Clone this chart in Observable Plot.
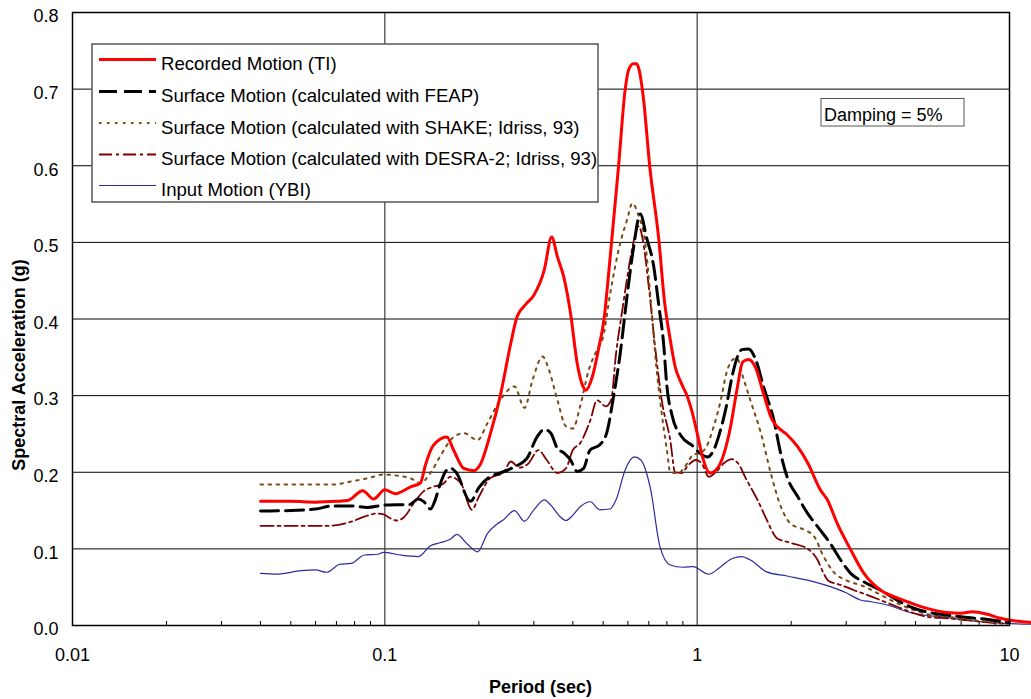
<!DOCTYPE html>
<html>
<head>
<meta charset="utf-8">
<script src="https://cdn.jsdelivr.net/npm/d3@7"></script>
<script src="https://cdn.jsdelivr.net/npm/@observablehq/plot@0.6"></script>
<style>
  html, body { margin: 0; padding: 0; background: #fff; }
  #chart { width: 1031px; height: 699px; }
</style>
</head>
<body>
<div id="chart"></div>
<script>
// ---- Data (period in sec, spectral acceleration in g) ----
const recordedT  = [0.04,0.05,0.06,0.07,0.076,0.085,0.092,0.1,0.108,0.121,0.13,0.135,0.143,0.158,0.166,0.179,0.193,0.202,0.218,0.234,0.253,0.265,0.284,0.3,0.324,0.342,0.357,0.374,0.393,0.413,0.429,0.44,0.462,0.485,0.503,0.522,0.54,0.56,0.588,0.603,0.625,0.64,0.652,0.672,0.705,0.754,0.785,0.82,0.85,0.89,0.93,0.96,1.0,1.04,1.1,1.16,1.22,1.28,1.34,1.4,1.46,1.54,1.63,1.74,1.8,1.94,2.1,2.26,2.48,2.61,2.81,3.1,3.42,3.87,4.37,4.94,5.6,6.3,6.97,7.6,8.5,9.35,10.3,11.77];
const recordedSa = [0.162,0.162,0.161,0.162,0.163,0.176,0.165,0.177,0.172,0.181,0.186,0.21,0.235,0.246,0.229,0.205,0.202,0.21,0.251,0.299,0.368,0.403,0.42,0.431,0.464,0.507,0.481,0.455,0.408,0.342,0.314,0.307,0.325,0.364,0.399,0.464,0.529,0.599,0.699,0.725,0.733,0.733,0.725,0.69,0.599,0.503,0.425,0.373,0.338,0.316,0.299,0.281,0.251,0.22,0.199,0.205,0.225,0.26,0.307,0.344,0.347,0.336,0.303,0.268,0.26,0.249,0.233,0.212,0.177,0.164,0.133,0.099,0.068,0.046,0.036,0.028,0.021,0.017,0.016,0.018,0.0146,0.0094,0.0063,0.004];

const feapT  = [0.04,0.05,0.06,0.068,0.078,0.088,0.099,0.12,0.128,0.133,0.14,0.145,0.15,0.158,0.163,0.169,0.188,0.2,0.217,0.234,0.26,0.285,0.307,0.324,0.34,0.357,0.375,0.393,0.413,0.433,0.454,0.488,0.513,0.54,0.567,0.596,0.626,0.657,0.69,0.725,0.755,0.78,0.8,0.83,0.89,0.97,1.02,1.08,1.13,1.18,1.24,1.3,1.39,1.46,1.54,1.63,1.76,1.85,1.94,2.1,2.26,2.43,2.67,2.88,3.1,3.42,3.87,4.37,4.94,5.6,6.3,7.2,8.07,9.1,10];
const feapSa = [0.1495,0.15,0.152,0.156,0.156,0.154,0.157,0.158,0.165,0.162,0.152,0.164,0.183,0.203,0.205,0.2,0.162,0.18,0.194,0.199,0.207,0.218,0.246,0.256,0.251,0.231,0.225,0.216,0.201,0.205,0.229,0.236,0.251,0.299,0.355,0.429,0.494,0.537,0.505,0.47,0.415,0.37,0.312,0.275,0.247,0.234,0.225,0.22,0.229,0.251,0.286,0.329,0.36,0.361,0.347,0.312,0.268,0.225,0.194,0.168,0.146,0.129,0.107,0.0855,0.068,0.057,0.046,0.033,0.0225,0.0167,0.0137,0.0107,0.0089,0.0063,0.004];

const shakeT  = [0.04,0.068,0.078,0.088,0.099,0.112,0.121,0.13,0.14,0.15,0.166,0.179,0.198,0.213,0.234,0.26,0.28,0.297,0.32,0.335,0.357,0.38,0.4,0.422,0.45,0.478,0.5,0.527,0.567,0.596,0.62,0.65,0.68,0.71,0.74,0.77,0.8,0.82,0.87,0.93,0.97,1.02,1.07,1.13,1.19,1.24,1.3,1.34,1.4,1.48,1.6,1.72,1.85,1.99,2.2,2.37,2.54,2.76,3.0,3.42,3.87,4.37,4.94,5.6,6.3,7.3,8.5,9.8];
const shakeSa = [0.184,0.184,0.188,0.192,0.197,0.195,0.192,0.186,0.199,0.22,0.246,0.251,0.242,0.264,0.294,0.312,0.284,0.32,0.351,0.334,0.294,0.26,0.257,0.286,0.334,0.36,0.377,0.434,0.499,0.529,0.551,0.534,0.503,0.425,0.338,0.277,0.229,0.2,0.199,0.212,0.223,0.225,0.233,0.26,0.294,0.329,0.347,0.349,0.325,0.294,0.251,0.199,0.156,0.133,0.125,0.116,0.09,0.068,0.059,0.051,0.04,0.029,0.02,0.0137,0.0115,0.008,0.005,0.003];

const desraT  = [0.04,0.065,0.078,0.086,0.094,0.099,0.104,0.109,0.115,0.124,0.133,0.143,0.154,0.162,0.175,0.19,0.2,0.217,0.24,0.253,0.27,0.289,0.31,0.33,0.357,0.38,0.4,0.422,0.455,0.478,0.51,0.53,0.55,0.58,0.61,0.65,0.67,0.7,0.735,0.77,0.82,0.85,0.89,0.94,0.99,1.04,1.09,1.14,1.22,1.29,1.35,1.44,1.56,1.67,1.8,1.99,2.26,2.43,2.54,2.63,2.88,3.18,3.5,3.87,4.37,4.94,5.6,6.3,7.2,8.5,9.8];
const desraSa = [0.13,0.13,0.1355,0.142,0.146,0.145,0.14,0.137,0.141,0.16,0.175,0.181,0.185,0.194,0.186,0.151,0.168,0.192,0.2,0.214,0.206,0.212,0.229,0.216,0.199,0.205,0.229,0.238,0.268,0.294,0.286,0.294,0.355,0.42,0.477,0.521,0.503,0.442,0.36,0.294,0.242,0.2,0.199,0.21,0.216,0.21,0.194,0.199,0.212,0.217,0.212,0.19,0.164,0.138,0.114,0.108,0.1,0.0855,0.068,0.0585,0.053,0.046,0.04,0.033,0.0245,0.016,0.0107,0.0094,0.0072,0.004,0.002];

const inputT  = [0.04,0.045,0.054,0.06,0.065,0.072,0.078,0.086,0.095,0.099,0.112,0.128,0.14,0.15,0.162,0.17,0.183,0.198,0.213,0.229,0.24,0.26,0.28,0.3,0.324,0.34,0.364,0.38,0.4,0.422,0.455,0.488,0.526,0.55,0.588,0.63,0.66,0.71,0.76,0.82,0.9,0.97,1.09,1.19,1.3,1.39,1.48,1.67,1.94,2.37,2.67,3.0,3.33,3.6,4.16,4.7,5.3,6.0,6.97,8.07,9.35,11.77];
const inputSa = [0.068,0.067,0.0715,0.0725,0.0695,0.08,0.081,0.092,0.093,0.0955,0.092,0.09,0.104,0.108,0.1125,0.119,0.107,0.096,0.12,0.1325,0.138,0.15,0.136,0.151,0.164,0.157,0.142,0.137,0.144,0.155,0.1615,0.151,0.152,0.164,0.203,0.22,0.216,0.177,0.103,0.079,0.076,0.0768,0.067,0.0768,0.0877,0.0898,0.0855,0.07,0.0646,0.057,0.0507,0.0428,0.0333,0.031,0.0255,0.018,0.0137,0.0115,0.008,0.005,0.003,0.0016];

const seriesNames = [
  "Recorded Motion (TI)",
  "Surface Motion (calculated with FEAP)",
  "Surface Motion (calculated with SHAKE; Idriss, 93)",
  "Surface Motion (calculated with DESRA-2; Idriss, 93)",
  "Input Motion (YBI)"
];
const yTicks = [0, 0.1, 0.2, 0.3, 0.4, 0.5, 0.6, 0.7, 0.8];
const xMajorTicks = [0.01, 0.1, 1, 10];
const xMinorTicks = [0.02,0.03,0.04,0.05,0.06,0.07,0.08,0.09,0.2,0.3,0.4,0.5,0.6,0.7,0.8,0.9,2,3,4,5,6,7,8,9];
const xLabel = "Period (sec)";
const yLabel = "Spectral Acceleration (g)";
const noteText = "Damping = 5%";

// ---- Styles ----
const styles = [
  {stroke: "#ff0000", strokeWidth: 3, dash: null},
  {stroke: "#000000", strokeWidth: 3, dash: "18,7"},
  {stroke: "#7a4a14", strokeWidth: 2, dash: "2.5,5.5"},
  {stroke: "#800000", strokeWidth: 1.8, dash: "13,4,3,4"},
  {stroke: "#2b2b9e", strokeWidth: 1.2, dash: null}
];
const toRows = (T, S) => T.map((t, i) => ({T: t, Sa: S[i]}));
const seriesData = [
  toRows(recordedT, recordedSa),
  toRows(feapT, feapSa),
  toRows(shakeT, shakeSa),
  toRows(desraT, desraSa),
  toRows(inputT, inputSa)
];
const drawOrder = [4, 3, 2, 1, 0];

const FONT = "Arial, 'Liberation Sans', Helvetica, sans-serif";

const chart = Plot.plot({
  width: 1031,
  height: 699,
  marginLeft: 72,
  marginRight: 22,
  marginTop: 12,
  marginBottom: 74,
  style: {fontFamily: FONT, fontSize: "18px", color: "#000", background: "#fff", overflow: "visible"},
  x: {type: "log", domain: [0.01, 10]},
  y: {domain: [0, 0.8]},
  marks: [
    Plot.ruleY(yTicks.filter(d => d > 0 && d < 0.8), {stroke: "#000", strokeWidth: 1}),
    Plot.ruleX([0.1, 1], {stroke: "#3a3a3a", strokeWidth: 1.2}),
    Plot.axisY({ticks: yTicks, tickSize: 0, tickPadding: 14, tickFormat: d3.format(".1f"), label: null, dy: 4, fill: "#000"}),
    Plot.axisX({ticks: xMajorTicks, tickSize: 0, tickPadding: 23, tickFormat: d => d3.format("~g")(d), label: null, fill: "#000"}),
    Plot.axisX({ticks: xMinorTicks, tickSize: 4, dy: -4, tickFormat: () => "", label: null, stroke: "#000"}),
    ...drawOrder.map(i => Plot.line(seriesData[i], {
      x: "T", y: "Sa", stroke: styles[i].stroke, strokeWidth: styles[i].strokeWidth,
      strokeDasharray: styles[i].dash, curve: "monotone-x", strokeLinejoin: "round"
    })),
    Plot.frame({stroke: "#000", strokeWidth: 1.5})
  ]
});

document.getElementById("chart").appendChild(chart);

// ---- Annotations: legend, note box, axis titles ----
const svg = d3.select(chart);
const leg = svg.append("g").attr("font-family", FONT).attr("font-size", 18.6).attr("text-anchor", "start");
leg.append("rect").attr("x", 92).attr("y", 44).attr("width", 506).attr("height", 158)
  .attr("fill", "#fff").attr("stroke", "#555").attr("stroke-width", 1.5);
const rowY = [59.5, 91.5, 123, 154.5, 185.5];
seriesNames.forEach((name, i) => {
  const st = styles[i];
  leg.append("line").attr("x1", 99).attr("x2", 156).attr("y1", rowY[i]).attr("y2", rowY[i])
    .attr("stroke", st.stroke).attr("stroke-width", st.strokeWidth)
    .attr("stroke-dasharray", st.dash);
  leg.append("text").attr("x", 161).attr("y", rowY[i] + 10.5).attr("fill", "#000")
    .attr("text-anchor", "start").text(name);
});

const note = svg.append("g").attr("font-family", FONT).attr("font-size", 18).attr("text-anchor", "start");
note.append("rect").attr("x", 821).attr("y", 98.5).attr("width", 143).attr("height", 27.5)
  .attr("fill", "#fff").attr("stroke", "#555").attr("stroke-width", 1);
note.append("text").attr("x", 824).attr("y", 120.5).attr("fill", "#000")
  .attr("text-anchor", "start").text(noteText);

svg.append("text").attr("x", 540.5).attr("y", 692.5).attr("text-anchor", "middle")
  .attr("font-family", FONT).attr("font-size", 18).attr("font-weight", "bold").attr("fill", "#000")
  .text(xLabel);
svg.append("text").attr("transform", "translate(24.5,365) rotate(-90)").attr("text-anchor", "middle")
  .attr("font-family", FONT).attr("font-size", 18).attr("font-weight", "bold").attr("fill", "#000")
  .text(yLabel);
</script>
</body>
</html>
